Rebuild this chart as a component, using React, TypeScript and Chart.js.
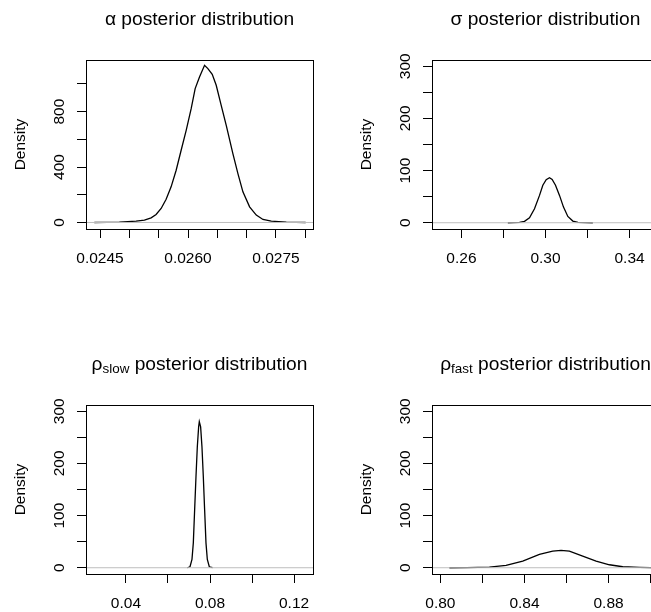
import React, { useEffect, useRef } from "react";
import { Chart, registerables } from "chart.js";

Chart.register(...registerables);

const FONT = '"Liberation Sans", Arial, Helvetica, sans-serif';

// ---- Panel 1: alpha ----
const ALPHA_X = [0.024403, 0.02483, 0.025115, 0.025257, 0.025371, 0.025456, 0.025542, 0.025627, 0.025712, 0.025798, 0.025883, 0.025969, 0.026054, 0.026122, 0.026196, 0.026282, 0.026339, 0.026413, 0.026481, 0.026566, 0.026652, 0.026765, 0.026851, 0.026936, 0.02705, 0.027164, 0.027278, 0.02742, 0.027676, 0.028006];
const ALPHA_Y = [0, 2.4, 9.6, 16.8, 33.6, 57.6, 101, 168, 257, 377, 521, 665, 821, 966, 1050, 1134, 1110, 1069, 990, 845, 701, 497, 353, 221, 113, 53, 21.6, 9.6, 2.4, 0];
const ALPHA_XTICKS = [0.0245, 0.025, 0.0255, 0.026, 0.0265, 0.027, 0.0275, 0.028];
const ALPHA_XLABELS = ["0.0245", "0.0260", "0.0275"];
const ALPHA_YTICKS = [0, 200, 400, 600, 800, 1000];
const ALPHA_YLABELS = ["0", "400", "800"];

// ---- Panel 2: sigma ----
const SIGMA_X = [0.28208, 0.28763, 0.29001, 0.29239, 0.29477, 0.29715, 0.29873, 0.30032, 0.3019, 0.30317, 0.30476, 0.30666, 0.30856, 0.31063, 0.31301, 0.31539, 0.32252];
const SIGMA_Y = [0, 0.6, 2.6, 9.6, 26.8, 52.4, 71.9, 82.6, 86.2, 83.0, 71.9, 52.4, 30.0, 12.1, 3.2, 0.6, 0];
const SIGMA_XTICKS = [0.26, 0.28, 0.3, 0.32, 0.34];
const SIGMA_XLABELS = ["0.26", "0.30", "0.34"];

// ---- Panel 3: rho slow ----
const RSLOW_X = [0.0692, 0.07048, 0.07142, 0.07206, 0.07269, 0.07333, 0.07396, 0.07459, 0.07491, 0.07554, 0.07617, 0.07681, 0.07744, 0.07808, 0.07872, 0.07967, 0.0812];
const RSLOW_Y = [0, 1.9, 15.9, 47.7, 111, 175, 232, 270, 280, 270, 232, 175, 111, 47.7, 15.9, 1.9, 0];
const RSLOW_XTICKS = [0.04, 0.06, 0.08, 0.1, 0.12];
const RSLOW_XLABELS = ["0.04", "0.08", "0.12"];

// ---- Panel 4: rho fast ----
const RFAST_X = [0.80428, 0.8125, 0.82331, 0.83124, 0.83917, 0.8471, 0.85345, 0.85741, 0.86137, 0.8677, 0.87408, 0.8804, 0.88674, 0.89468, 0.8999, 0.912];
const RFAST_Y = [0, 0.4, 1.3, 4.5, 12.7, 25.4, 31.8, 33.1, 31.8, 22.3, 12.7, 5.7, 1.9, 0.6, 0.2, 0];
const RFAST_XTICKS = [0.8, 0.82, 0.84, 0.86, 0.88, 0.9];
const RFAST_XLABELS = ["0.80", "0.84", "0.88"];

// shared y ticks for panels 2-4
const DENS_YTICKS = [0, 50, 100, 150, 200, 250, 300];
const DENS_YLABELS = ["0", "100", "200", "300"];

const labelFor = (labels: string[]) => (v: number) => {
  const hit = labels.find((l) => Math.abs(parseFloat(l) - v) < 1e-9);
  return hit === undefined ? "" : hit;
};

const boxPlugin = {
  id: "rbox",
  afterDraw(chart: any) {
    const { ctx, chartArea: a } = chart;
    ctx.save();
    ctx.strokeStyle = "#000";
    ctx.lineWidth = 1;
    ctx.strokeRect(
      Math.round(a.left) + 0.5,
      Math.round(a.top) + 0.5,
      Math.round(a.right - a.left),
      Math.round(a.bottom - a.top)
    );
    ctx.restore();
  },
};

type PanelProps = {
  left: number;
  top: number;
  title: React.ReactNode;
  xs: number[];
  ys: number[];
  xMin: number;
  xMax: number;
  yMin: number;
  yMax: number;
  xTicks: number[];
  xLabels: string[];
  yTicks: number[];
  yLabels: string[];
};

const CW = 346;
const CH = 306;

function Panel(p: PanelProps) {
  const ref = useRef<HTMLCanvasElement | null>(null);
  useEffect(() => {
    if (!ref.current) return;
    const xl = labelFor(p.xLabels);
    const yl = labelFor(p.yLabels);
    const chart = new Chart(ref.current, {
      type: "line",
      data: {
        datasets: [
          {
            data: [
              { x: p.xMin, y: 0 },
              { x: p.xMax, y: 0 },
            ],
            borderColor: "#bebebe",
            borderWidth: 1,
            pointRadius: 0,
            order: 0,
          },
          {
            data: p.xs.map((x, i) => ({ x, y: p.ys[i] })),
            borderColor: "#000",
            borderWidth: 1.3,
            pointRadius: 0,
            tension: 0,
            order: 1,
          },
        ],
      },
      options: {
        animation: false,
        responsive: false,
        maintainAspectRatio: false,
        events: [],
        layout: { padding: { left: 0, top: 60, right: 33, bottom: 17 } },
        plugins: {
          legend: { display: false },
          tooltip: { enabled: false },
          title: { display: false },
        },
        scales: {
          x: {
            type: "linear",
            min: p.xMin,
            max: p.xMax,
            afterBuildTicks: (s: any) => {
              s.ticks = p.xTicks.map((v) => ({ value: v }));
            },
            afterFit: (s: any) => {
              s.height = 60;
            },
            ticks: {
              autoSkip: false,
              minRotation: 0,
              maxRotation: 0,
              padding: 11.5,
              color: "#000",
              font: { family: FONT, size: 15.5 },
              callback: (v: any) => xl(Number(v)),
            },
            grid: {
              drawOnChartArea: false,
              drawTicks: true,
              tickLength: 9,
              color: "#000",
              lineWidth: 1,
            },
            border: { display: true, color: "#000", width: 1 },
          },
          y: {
            type: "linear",
            min: p.yMin,
            max: p.yMax,
            afterBuildTicks: (s: any) => {
              s.ticks = p.yTicks.map((v) => ({ value: v }));
            },
            afterFit: (s: any) => {
              s.width = 86;
            },
            ticks: {
              autoSkip: false,
              minRotation: 90,
              maxRotation: 90,
              crossAlign: "center",
              padding: 4.5,
              color: "#000",
              font: { family: FONT, size: 15.5 },
              callback: (v: any) => yl(Number(v)),
            },
            grid: {
              drawOnChartArea: false,
              drawTicks: true,
              tickLength: 9,
              color: "#000",
              lineWidth: 1,
            },
            border: { display: true, color: "#000", width: 1 },
            title: {
              display: true,
              text: "Density",
              color: "#000",
              font: { family: FONT, size: 15.5 },
              padding: { top: 11, bottom: 0 },
            },
          },
        },
      } as any,
      plugins: [boxPlugin],
    });
    return () => chart.destroy();
  }, []);

  return (
    <div style={{ position: "absolute", left: p.left, top: p.top, width: CW, height: CH }}>
      <canvas ref={ref} width={CW} height={CH} style={{ display: "block", width: CW, height: CH }} />
      <div
        style={{
          position: "absolute",
          left: 86,
          top: 8.35,
          width: 227,
          textAlign: "center",
          fontFamily: FONT,
          fontSize: 19.2,
          lineHeight: "22px",
          whiteSpace: "nowrap",
          color: "#000",
        }}
      >
        {p.title}
      </div>
    </div>
  );
}

const subStyle: React.CSSProperties = { fontSize: "0.7em", verticalAlign: "-0.2em", lineHeight: 0 };

export default function App() {
  return (
    <div
      style={{
        position: "fixed",
        left: 0,
        top: 0,
        width: 651,
        height: 612,
        overflow: "hidden",
        background: "#fff",
      }}
    >
      <Panel
        left={0}
        top={0}
        title={<span>α posterior distribution</span>}
        xs={ALPHA_X}
        ys={ALPHA_Y}
        xMin={0.024261}
        xMax={0.028131}
        yMin={-47}
        yMax={1172}
        xTicks={ALPHA_XTICKS}
        xLabels={ALPHA_XLABELS}
        yTicks={ALPHA_YTICKS}
        yLabels={ALPHA_YLABELS}
      />
      <Panel
        left={346}
        top={0}
        title={<span>σ posterior distribution</span>}
        xs={SIGMA_X}
        ys={SIGMA_Y}
        xMin={0.246}
        xMax={0.354}
        yMin={-12}
        yMax={312}
        xTicks={SIGMA_XTICKS}
        xLabels={SIGMA_XLABELS}
        yTicks={DENS_YTICKS}
        yLabels={DENS_YLABELS}
      />
      <Panel
        left={0}
        top={345}
        title={
          <span>
            ρ<span style={subStyle}>slow</span> posterior distribution
          </span>
        }
        xs={RSLOW_X}
        ys={RSLOW_Y}
        xMin={0.021}
        xMax={0.129}
        yMin={-12}
        yMax={312}
        xTicks={RSLOW_XTICKS}
        xLabels={RSLOW_XLABELS}
        yTicks={DENS_YTICKS}
        yLabels={DENS_YLABELS}
      />
      <Panel
        left={346}
        top={345}
        title={
          <span>
            ρ<span style={subStyle}>fast</span> posterior distribution
          </span>
        }
        xs={RFAST_X}
        ys={RFAST_Y}
        xMin={0.796}
        xMax={0.904}
        yMin={-12}
        yMax={312}
        xTicks={RFAST_XTICKS}
        xLabels={RFAST_XLABELS}
        yTicks={DENS_YTICKS}
        yLabels={DENS_YLABELS}
      />
    </div>
  );
}
